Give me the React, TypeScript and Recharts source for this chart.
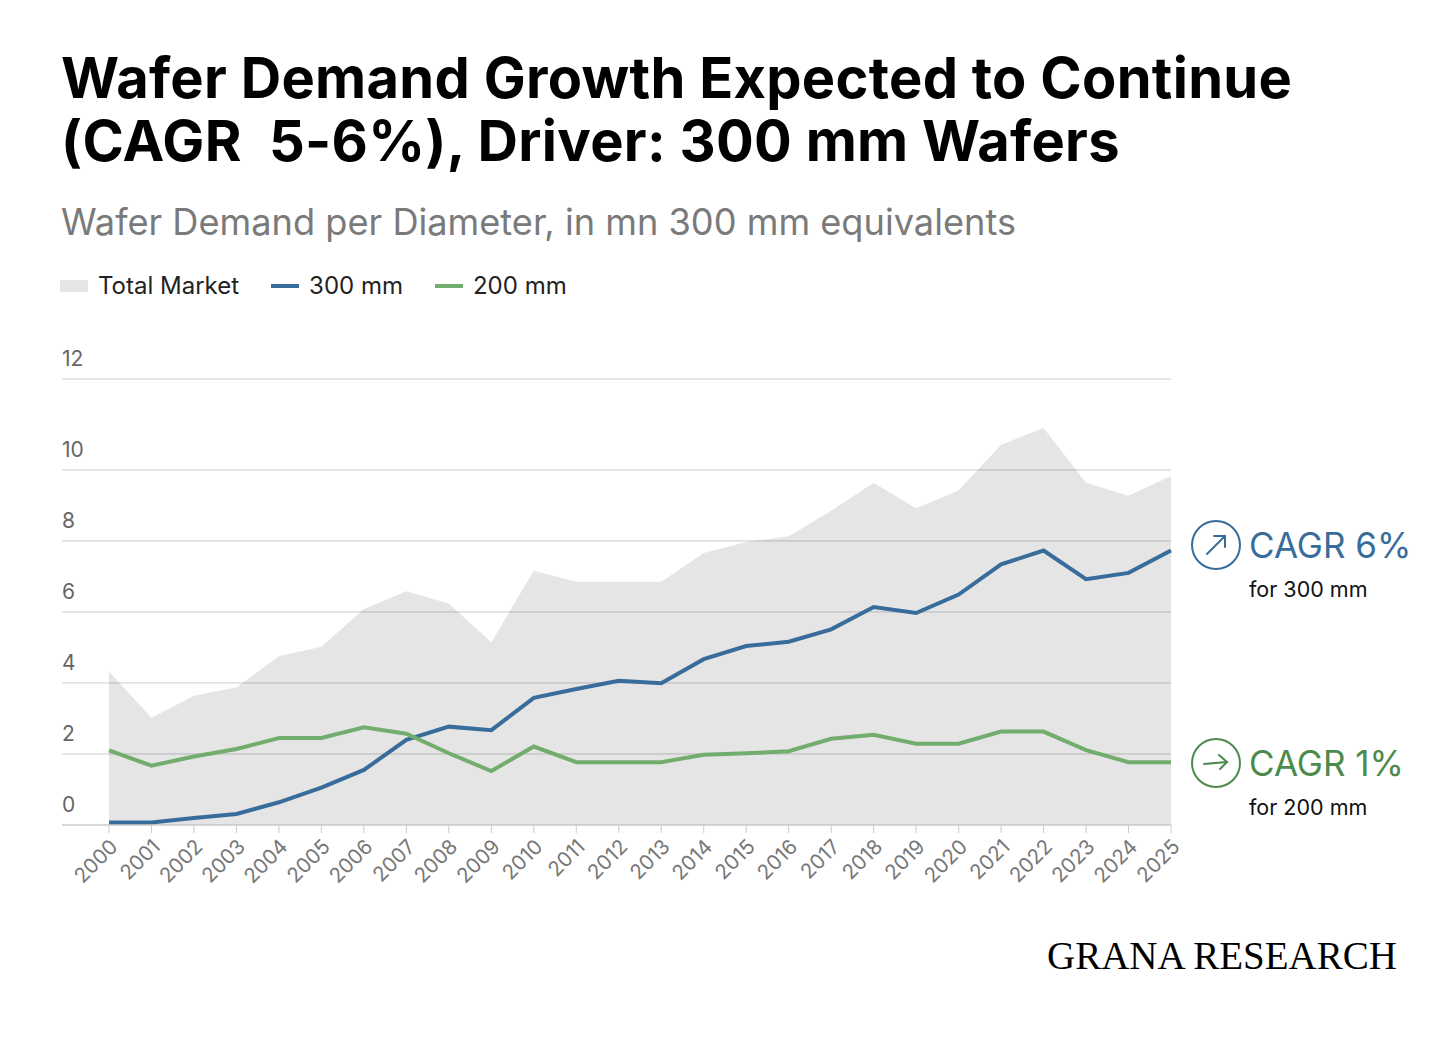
import React from "react"
import { ComposedChart, Area, Line, XAxis, YAxis, CartesianGrid } from "recharts"

// years on the x axis
const years = [
  "2000", "2001", "2002", "2003", "2004", "2005", "2006", "2007", "2008", "2009",
  "2010", "2011", "2012", "2013", "2014", "2015", "2016", "2017", "2018", "2019",
  "2020", "2021", "2022", "2023", "2024", "2025",
]

// mn 300 mm equivalents
const totalMarket = [
  4.32, 3.02, 3.64, 3.88, 4.75, 5.02, 6.08, 6.58, 6.24, 5.15,
  7.16, 6.85, 6.85, 6.85, 7.66, 7.97, 8.13, 8.85, 9.64, 8.92,
  9.42, 10.71, 11.18, 9.64, 9.27, 9.83,
]
const wafer300 = [
  0.07, 0.07, 0.2, 0.31, 0.64, 1.05, 1.55, 2.4, 2.77, 2.67,
  3.58, 3.83, 4.06, 3.99, 4.67, 5.04, 5.16, 5.51, 6.14, 5.97,
  6.49, 7.34, 7.73, 6.92, 7.1, 7.73,
]
const wafer200 = [
  2.1, 1.67, 1.93, 2.14, 2.45, 2.45, 2.75, 2.57, 2.02, 1.52,
  2.21, 1.77, 1.77, 1.77, 1.98, 2.02, 2.08, 2.43, 2.54, 2.29,
  2.29, 2.63, 2.63, 2.11, 1.77, 1.77,
]

// top gridline sits a bit above 12 in the original, label still reads "12"
const yTicks = [0, 2, 4, 6, 8, 10, 12.56]
const yTickLabels = ["0", "2", "4", "6", "8", "10", "12"]

const BLUE = "#386d9b"
const GREEN = "#72ad6e"
const FONT = "Inter, 'Noto Sans', sans-serif"

const data = years.map((year, i) => ({
  year,
  total: totalMarket[i],
  w300: wafer300[i],
  w200: wafer200[i],
}))

const YTick = ({ x, y, payload }: any) => {
  const idx = yTicks.indexOf(payload.value)
  return (
    <text x={x} y={y - 13} fill="#666" fontSize={21} fontFamily={FONT} textAnchor="start">
      {idx >= 0 ? yTickLabels[idx] : payload.value}
    </text>
  )
}

const XTick = ({ x, y, payload }: any) => (
  <g transform={`translate(${x + 10},${y + 13})`}>
    <text textAnchor="end" transform="rotate(-45)" fill="#777" fontSize={20.5} fontFamily={FONT}>
      {payload.value}
    </text>
  </g>
)

const legendItems = [
  { label: "Total Market", color: "#e6e6e6", kind: "box" },
  { label: "300 mm", color: BLUE, kind: "line" },
  { label: "200 mm", color: GREEN, kind: "line" },
]

function Cagr({ top, color, arrow, big, small }: any) {
  return (
    <div style={{ position: "absolute", left: 1190, top, fontFamily: FONT }}>
      <svg width={54} height={54} style={{ position: "absolute", left: 0, top: 0 }}>
        <circle cx={26} cy={26} r={24} fill="none" stroke={color} strokeWidth={2} />
        {arrow === "up" ? (
          <g stroke={color} strokeWidth={2} fill="none" strokeLinecap="round">
            <line x1={17} y1={35} x2={35} y2={17} />
            <polyline points="24,17 35,17 35,28" />
          </g>
        ) : (
          <g stroke={color} strokeWidth={2} fill="none" strokeLinecap="round">
            <line x1={14} y1={27} x2={37} y2={25} />
            <polyline points="29,18 37,25 30,32" />
          </g>
        )}
      </svg>
      <div style={{ position: "absolute", left: 59, top: 3, fontSize: 35, color, whiteSpace: "nowrap", lineHeight: "46px" }}>
        {big}
      </div>
      <div style={{ position: "absolute", left: 59, top: 57, fontSize: 21.5, color: "#111", whiteSpace: "nowrap" }}>
        {small}
      </div>
    </div>
  )
}

export default function App() {
  return (
    <div style={{ position: "absolute", left: 0, top: 0, width: 1456, height: 1043, background: "#fff", overflow: "hidden" }}>
      <div style={{ position: "absolute", left: 61, top: 47, fontFamily: FONT, fontWeight: 700, fontSize: 56, lineHeight: "63px", color: "#000", letterSpacing: "0.3px" }}>
        Wafer Demand Growth Expected to Continue
        <br />
        (CAGR&nbsp; 5-6%), Driver: 300 mm Wafers
      </div>
      <div style={{ position: "absolute", left: 61, top: 200, fontFamily: FONT, fontSize: 36.2, color: "#7a7a7a" }}>
        Wafer Demand per Diameter, in mn 300 mm equivalents
      </div>

      <div style={{ position: "absolute", left: 60, top: 271, display: "flex", alignItems: "center", fontFamily: FONT, fontSize: 24, color: "#222" }}>
        {legendItems.map((item) => (
          <div key={item.label} style={{ display: "flex", alignItems: "center", marginRight: 32 }}>
            <div
              style={{
                width: 28,
                height: item.kind === "box" ? 12 : 4,
                background: item.color,
                marginRight: 10,
              }}
            />
            <span>{item.label}</span>
          </div>
        ))}
      </div>

      <div style={{ position: "absolute", left: 0, top: 0 }}>
        <ComposedChart
          width={1456}
          height={1043}
          data={data}
          margin={{ top: 379, right: 285, bottom: 158, left: 0 }}
        >
          <CartesianGrid vertical={false} stroke="#cccccc" strokeWidth={1} />
          <XAxis
            dataKey="year"
            interval={0}
            height={60}
            padding={{ left: 47, right: 0 }}
            axisLine={{ stroke: "#cccccc" }}
            tickLine={{ stroke: "#cccccc" }}
            tickSize={8}
            tick={<XTick />}
          />
          <YAxis
            width={62}
            domain={[0, 12.56]}
            ticks={yTicks}
            interval={0}
            axisLine={false}
            tickLine={false}
            tickSize={0}
            tickMargin={0}
            orientation="left"
            tick={<YTick />}
          />
          <Area
            type="linear"
            dataKey="total"
            stroke="none"
            fill="#000"
            fillOpacity={0.1}
            isAnimationActive={false}
          />
          <Line type="linear" dataKey="w300" stroke={BLUE} strokeWidth={4} dot={false} isAnimationActive={false} />
          <Line type="linear" dataKey="w200" stroke={GREEN} strokeWidth={4} dot={false} isAnimationActive={false} />
        </ComposedChart>
      </div>

      <Cagr top={519} color="#386d9b" arrow="up" big="CAGR 6%" small="for 300 mm" />
      <Cagr top={737} color="#4b8a4b" arrow="right" big="CAGR 1%" small="for 200 mm" />

      <div style={{ position: "absolute", left: 1047, top: 933, fontFamily: "'Liberation Serif', 'Times New Roman', serif", fontSize: 39, color: "#000", whiteSpace: "nowrap" }}>
        GRANA RESEARCH
      </div>
    </div>
  )
}
